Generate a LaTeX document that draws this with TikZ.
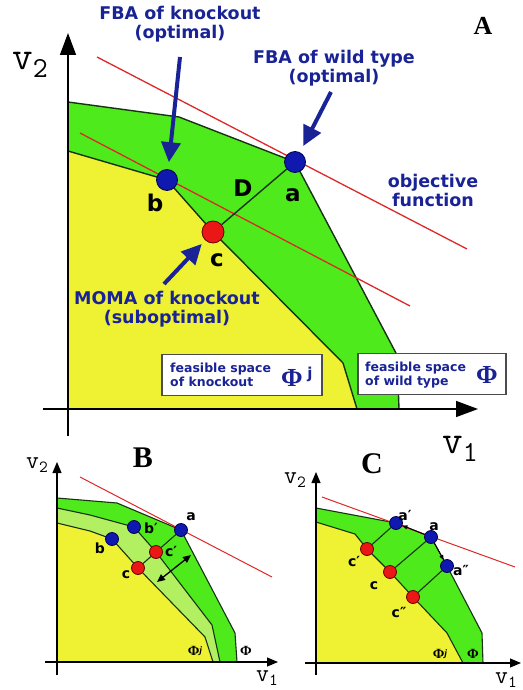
\documentclass[tikz,border=0pt]{standalone}
\usepackage{fontspec}
\setmainfont{DejaVu Sans}
\newfontfamily\monof{Latin Modern Mono}
\newfontfamily\serf{Liberation Serif}
\usetikzlibrary{arrows.meta}
\definecolor{ylw}{RGB}{238,242,50}
\definecolor{grn}{RGB}{78,234,28}
\definecolor{lgrn}{RGB}{178,240,98}
\definecolor{navy}{RGB}{25,35,150}
\definecolor{dotblue}{RGB}{15,25,175}
\definecolor{dotred}{RGB}{235,22,22}
\definecolor{edge}{RGB}{25,50,20}
\definecolor{objred}{RGB}{222,40,40}
\tikzset{
  bnd/.style={draw=edge, line width=1.4pt, line join=round},
  bndsm/.style={draw=edge, line width=1.1pt, line join=round},
  axA/.style={line width=1.4pt, -{Triangle[length=22pt,width=16pt]}},
  axS/.style={line width=1.1pt, -{Triangle[length=11pt,width=9pt]}},
  objA/.style={objred, line width=1.3pt},
  objS/.style={objred, line width=1pt},
  bdot/.style={circle, fill=dotblue, draw=blue!30!black, line width=0.8pt, inner sep=0pt, minimum size=#1},
  rdot/.style={circle, fill=dotred, draw=red!40!black, line width=0.8pt, inner sep=0pt, minimum size=#1},
  conn/.style={draw=edge, line width=1.4pt},
  connS/.style={draw=edge, line width=1.1pt},
  barrow/.style={draw=navy, line width=4pt, -{Triangle[length=20pt,width=19pt]}},
  bigtxt/.style={text=navy, font=\bfseries\fontsize{17.5}{19}\selectfont, align=center, inner sep=0pt},
  ltr/.style={font=\bfseries\fontsize{23}{25}\selectfont, inner sep=0pt},
  sltr/.style={font=\bfseries\fontsize{14}{15}\selectfont, inner sep=0pt},
  panel/.style={font=\serf\bfseries\fontsize{30}{30}\selectfont, inner sep=0pt},
  fsbox/.style={draw=black!70, line width=1.3pt, fill=white, inner sep=0pt},
  boxtxt/.style={text=navy, font=\bfseries\fontsize{12.5}{14}\selectfont, align=left, inner sep=0pt},
  phibig/.style={text=navy, font=\serf\bfseries\fontsize{26}{26}\selectfont, inner sep=0pt},
  phism/.style={font=\serf\bfseries\fontsize{14}{14}\selectfont, inner sep=0pt},
  vlab/.style={inner sep=0pt, anchor=base west},
}
\newcommand{\vbig}[1]{\monof\fontsize{40}{40}\selectfont v\raisebox{-8pt}{\fontsize{29}{29}\selectfont #1}}
\newcommand{\vsmall}[1]{\monof\fontsize{25}{25}\selectfont v\raisebox{-4pt}{\fontsize{17}{17}\selectfont #1}}
\begin{document}
\begin{tikzpicture}[x=1pt,y=-1pt]
\useasboundingbox (0,0) rectangle (522,690);
% ================= Panel A =================
\coordinate (pa) at (295,162);
\coordinate (pb) at (167,180);
\coordinate (pc) at (213,232);
\fill[grn] (68,409) -- (68,102) -- (179,117) -- (pa) -- (397,355) -- (399,409) -- cycle;
\fill[ylw] (68,409) -- (68,151) -- (pb) -- (pc) -- (343,363) -- (357,409) -- cycle;
\draw[bnd] (68,102) -- (179,117) -- (pa) -- (397,355) -- (399,409);
\draw[bnd] (68,151) -- (pb) -- (pc) -- (343,363) -- (357,409);
\draw[axA] (68,436) -- (68,33);
\draw[axA] (43,409) -- (478,409);
\draw[objA] (97,57) -- (467,249);
\draw[objA] (80,133) -- (410,306);
\node[bdot=21pt] (a) at (pa) {};
\node[bdot=21pt] (b) at (pb) {};
\node[rdot=22pt] (c) at (pc) {};
\draw[conn] (a) -- (c);
\node[ltr] (la) at (293,195) {a};
\node[ltr] (lb) at (155,203) {b};
\node[ltr] (lc) at (217,260) {c};
\node[ltr] (lD) at (243,188) {D};
\node[bigtxt] (tko) at (180,24) {FBA of knockout\\(optimal)};
\node[bigtxt] (twt) at (334,68) {FBA of wild type\\(optimal)};
\node[bigtxt] (tobj) at (433,190) {objective\\function};
\node[bigtxt] (tmoma) at (167,309) {MOMA of knockout\\(suboptimal)};
\coordinate (s1) at (180,57);
\coordinate (s2) at (331,92);
\coordinate (s3) at (164,284);
\draw[barrow, shorten >=7pt] (s1) -- (b);
\draw[barrow, shorten >=7pt] (s2) -- (a);
\draw[barrow, shorten >=5pt] (s3) -- (c);
\node[panel, font=\serf\bfseries\fontsize{26}{26}\selectfont] (pA) at (483,26) {A};
\node[vlab] (v2A) at (12,70) {\vbig{2}};
\node[vlab] (v1A) at (442,453) {\vbig{1}};
\node[fsbox, minimum width=160pt, minimum height=41pt] (boxk) at (242,375) {};
\node[fsbox, minimum width=148pt, minimum height=41pt] (boxw) at (432,374) {};
\node[boxtxt, anchor=west] (tk) at (170,375) {feasible space\\of knockout};
\node[boxtxt, anchor=west] (tw) at (365,375) {feasible space\\of wild type};
\node[phibig] (phik) at (292,378) {Φ};
\node[text=navy, font=\bfseries\fontsize{15}{15}\selectfont, inner sep=0pt] (jk) at (310,374) {j};
\node[phibig] (phiw) at (487,375) {Φ};
% ================= Panel B =================
\coordinate (Ba) at (181,530);
\coordinate (Bbp) at (134,527);
\coordinate (Bb) at (112,539);
\coordinate (Bcp) at (156,552);
\coordinate (Bc) at (138,568);
\fill[grn] (57,662) -- (57,498) -- (117,503) -- (Ba) -- (235,633) -- (237,662) -- cycle;
\fill[lgrn] (57,662) -- (57,508) -- (90,515) -- (Bbp) -- (Bcp) -- (212,625) -- (220,662) -- cycle;
\fill[ylw] (57,662) -- (57,523) -- (90,531) -- (Bb) -- (Bc) -- (205,637) -- (213,662) -- cycle;
\draw[bndsm] (57,498) -- (117,503) -- (Ba) -- (235,633) -- (237,662);
\draw[bndsm] (57,508) -- (90,515) -- (Bbp) -- (Bcp) -- (212,625) -- (220,662);
\draw[bndsm] (57,523) -- (90,531) -- (Bb) -- (Bc) -- (205,637) -- (213,662);
\draw[axS] (57,675) -- (57,462);
\draw[axS] (45,662) -- (278,662);
\draw[objS] (80,477) -- (272,577);
\node[bdot=13pt] (ba) at (Ba) {};
\node[bdot=13pt] (bbp) at (Bbp) {};
\node[bdot=13pt] (bb) at (Bb) {};
\node[rdot=13pt] (bcp) at (Bcp) {};
\node[rdot=13pt] (bc) at (Bc) {};
\draw[connS] (ba) -- (bcp);
\draw[connS] (bcp) -- (bc);
\coordinate (Bd1) at (157,582);
\coordinate (Bd2) at (191,555);
\draw[line width=1.3pt, {Triangle[length=8pt,width=7pt]}-{Triangle[length=8pt,width=7pt]}] (Bd1) -- (Bd2);
\node[sltr] (lba) at (191,517) {a};
\node[sltr] (lbbp) at (151,528) {b′};
\node[sltr] (lbb) at (100,548) {b};
\node[sltr] (lbcp) at (171,551) {c′};
\node[sltr] (lbc) at (126,575) {c};
\node[panel] (pB) at (143,458) {B};
\node[vlab] (v2B) at (26,468) {\vsmall{2}};
\node[vlab] (v1B) at (256,681) {\vsmall{1}};
\node[phism] (phBj) at (195,651) {Φ\raisebox{2pt}{\fontsize{10}{10}\selectfont\itshape j}};
\node[phism] (phB) at (246,651) {Φ};
% ================= Panel C =================
\coordinate (Cap) at (396,523);
\coordinate (Ca) at (431,537);
\coordinate (Capp) at (447,566);
\coordinate (Ccp) at (367,549);
\coordinate (Cc) at (390,572);
\coordinate (Ccpp) at (413,597);
\fill[grn] (316,663) -- (316,508) -- (Cap) -- (Ca) -- (Capp) -- (482,633) -- (483,663) -- cycle;
\fill[ylw] (316,663) -- (316,522) -- (355,534) -- (Ccp) -- (Cc) -- (Ccpp) -- (447,633) -- (463,663) -- cycle;
\draw[bndsm] (316,508) -- (Cap) -- (Ca) -- (Capp) -- (482,633) -- (483,663);
\draw[bndsm] (316,522) -- (355,534) -- (Ccp) -- (Cc) -- (Ccpp) -- (447,633) -- (463,663);
\draw[axS] (316,675) -- (316,472);
\draw[axS] (305,663) -- (521,663);
\draw[objS] (322,497) -- (515,567);
\node[bdot=13pt] (cap) at (Cap) {};
\node[bdot=13pt] (ca) at (Ca) {};
\node[bdot=13pt] (capp) at (Capp) {};
\node[rdot=13pt] (ccp) at (Ccp) {};
\node[rdot=13pt] (cc) at (Cc) {};
\node[rdot=13pt] (ccpp) at (Ccpp) {};
\draw[connS] (cap) -- (ccp);
\draw[connS] (ca) -- (cc);
\draw[connS] (capp) -- (ccpp);
\draw[line width=0.9pt, -{Triangle[length=5pt,width=4pt]}] (ca) -- (cap);
\draw[line width=0.9pt, -{Triangle[length=5pt,width=4pt]}] (ca) -- (capp);
\node[sltr] (lcap) at (405,515) {a′};
\node[sltr] (lca) at (434,527) {a};
\node[sltr] (lcapp) at (461,570) {a″};
\node[sltr] (lccp) at (354,561) {c′};
\node[sltr] (lcc) at (374,586) {c};
\node[sltr] (lccpp) at (399,612) {c″};
\node[panel] (pC) at (372,464) {C};
\node[vlab] (v2C) at (284,483) {\vsmall{2}};
\node[vlab] (v1C) at (495,683) {\vsmall{1}};
\node[phism] (phCj) at (440,654) {Φ\raisebox{2pt}{\fontsize{10}{10}\selectfont\itshape j}};
\node[phism] (phC) at (473,654) {Φ};
\end{tikzpicture}
\end{document}
